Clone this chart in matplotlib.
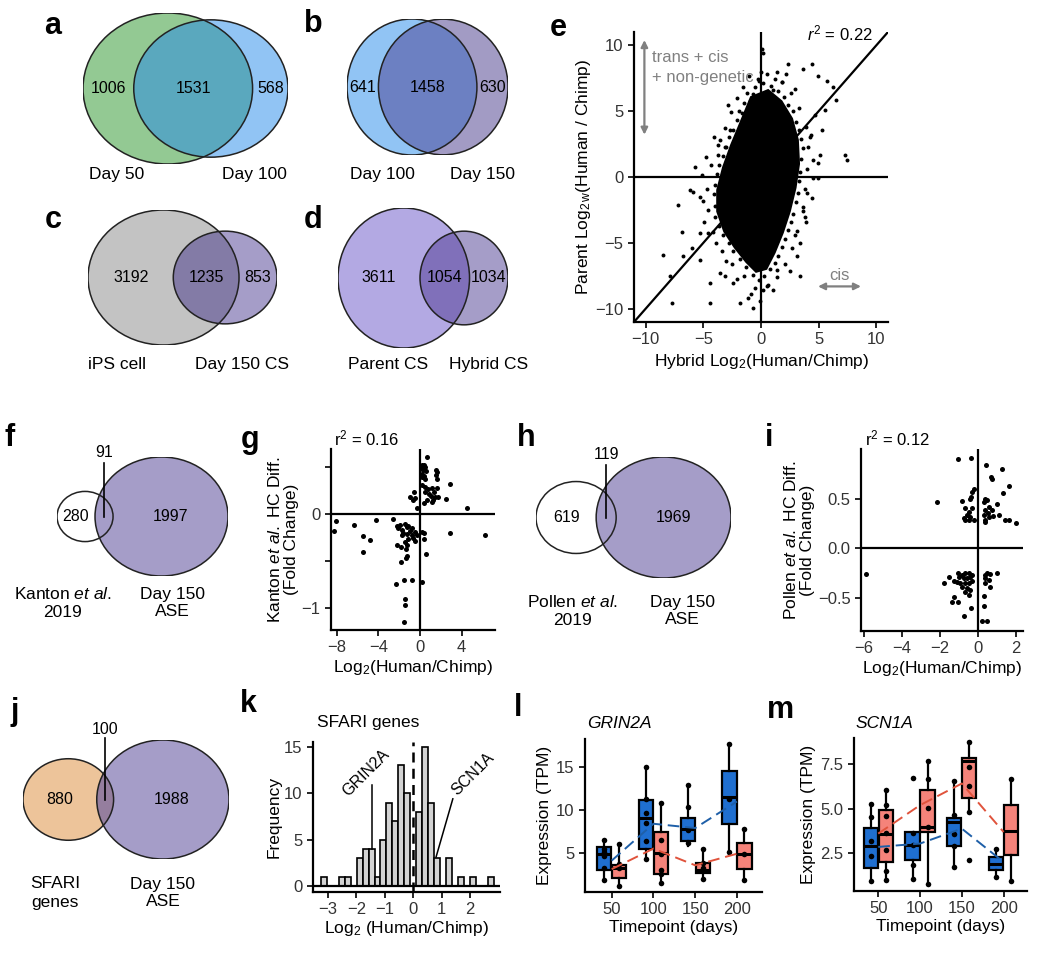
import math
import matplotlib
matplotlib.use('Agg')
import matplotlib.pyplot as plt
from matplotlib.patches import Ellipse

plt.rcParams['font.family'] = ['Liberation Sans', 'DejaVu Sans']
plt.rcParams['mathtext.fontset'] = 'custom'
plt.rcParams['mathtext.rm'] = 'Liberation Sans'
plt.rcParams['mathtext.it'] = 'Liberation Sans:italic'
plt.rcParams['mathtext.bf'] = 'Liberation Sans:bold'

# ---------------- data ----------------
# venn counts: (only left, both, only right)
venn_a = [1006, 1531, 568]
venn_b = [641, 1458, 630]
venn_c = [3192, 1235, 853]
venn_d = [3611, 1054, 1034]
venn_f = [280, 91, 1997]
venn_h = [619, 119, 1969]
venn_j = [880, 100, 1988]

# panel e: outline of the solid dense core + scattered genes around it
e_core_x = [-0.8, 0.6, 1.7, 2.6, 3.1, 3.2, 2.9, 2.4, 1.8, 1.1, 0.4, -0.4, -1.2, -2.2, -3.1, -3.7, -3.7, -3.2, -2.5, -1.6]
e_core_y = [6.0, 6.5, 5.7, 4.4, 2.8, 1.0, -0.8, -2.6, -4.2, -5.7, -6.9, -7.1, -6.4, -5.3, -4.1, -2.6, -1.0, 0.7, 2.4, 4.3]
# edge of the cloud
e_halo_x = [-1.2, -0.5, 0.2, 0.9, 1.5, 2.0, -1.5, -0.3, 1.2, 2.3, 2.8, -1.9, -2.1, 3.0, 3.3, 3.5, -2.4, -2.8,
            3.6, 3.5, -3.0, -3.3, 3.4, 3.3, -3.6, -3.8, 3.2, 3.0, -4.0, -4.1, 2.8, 2.6, -4.0, -4.0, 2.3, 2.1,
            -3.6, -3.3, 1.8, 1.5, -2.8, -2.4, 1.2, 0.8, -1.8, -1.3, 0.3, -0.2, -0.7,
            -1.6, 0.0, 1.8, 2.6, 3.3, 3.9, 4.1, 4.0, 3.8, 3.6, 3.1, 2.7, 2.1, 1.4, 0.6, -0.5, -1.5, -2.5, -3.4,
            -4.2, -4.6, -4.7, -4.3, -3.7, -3.1, -2.6, -2.1, -2.9, -4.1, -4.8, -5.0, -4.9, -3.9, 4.3, 4.5, 4.4,
            3.9, 3.4, 2.5, 1.0, -0.9, -2.1, -3.0, 2.2, -1.0]
e_halo_y = [6.4, 6.8, 7.1, 6.9, 6.5, 6.1, 5.6, 7.4, 7.4, 5.5, 5.0, 5.0, 4.3, 4.2, 3.6, 2.9, 3.6, 3.0,
            2.2, 1.4, 2.3, 1.6, 0.4, -0.3, 0.9, 0.2, -1.2, -1.9, -0.6, -1.3, -2.8, -3.4, -2.2, -3.0, -4.0, -4.7,
            -3.7, -4.4, -5.3, -6.0, -5.0, -5.6, -6.5, -7.0, -6.2, -6.8, -7.5, -7.8, -7.4,
            6.8, 8.0, 7.2, 6.4, 5.2, 3.8, 2.3, 0.6, -0.9, -2.6, -4.1, -5.4, -6.6, -7.6, -8.2, -8.4, -7.5, -6.6, -5.6,
            -4.2, -2.5, -0.9, 0.9, 2.4, 3.7, 4.9, 6.0, 5.5, 3.0, 1.5, -1.8, -3.4, -5.0, 3.2, 1.3, -1.6,
            -3.4, -5.0, -7.1, -8.6, -8.9, -7.7, -6.4, 7.8, 7.7]
# isolated outliers
e_pts_x = [0.06, 0.14, -0.14, 0.5, 1.36, 2.37, 3.67, 4.39, 4.96, 5.69, 6.26, 6.46, 5.54, 4.68, 1.79, 1.07, 2.94,
           -0.66, -0.95, -1.67, -2.68, -3.55, -3.12, -3.69, -5.71, -5.14, -6.15, -5.86, -5.28, -7.16, -6.87, -5.28,
           -6.0, -4.56, -8.46, -7.88, -7.73, -6.72, -5.28, -4.42, -4.42, -3.55, -3.12, -2.4, -1.82, -1.1, -0.66,
           -0.09, 0.2, 0.49, 1.36, 3.09, 3.38, 2.94, 3.81, 3.95, 3.67, 4.96, 4.53, 5.1, 4.96, 4.24, 5.25, 7.27,
           7.47]
e_pts_y = [9.7, 9.4, 7.3, 7.8, 8.0, 8.55, 8.2, 8.6, 7.7, 7.3, 6.8, 5.83, 5.07, 4.69, 7.2, 6.6, 6.7,
           6.3, 5.8, 4.82, 3.56, 2.8, 2.3, 1.66, 0.78, 0.15, -0.98, -1.11, -1.49, -2.12, -4.14, -4.26,
           -5.4, -4.26, -5.9, -7.54, -9.56, -6.03, -6.28, -8.05, -9.56, -7.29, -7.54, -8.05, -9.56, -9.18, -9.94,
           -9.43, -8.55, -8.3, -7.04, -6.03, -7.54, -4.39, -3.0, -1.24, -2.24, -0.1, -0.1, 1.66, 1.03, 3.05, 3.56, 1.66,
           1.29]

# panel g: Kanton et al. comparison
g_x = [0.71, 0.16, 0.35, 0.48, 0.10, 0.32, 0.55, 0.16, 0.39, 0.23, 0.48, 1.54, 1.67, 1.54, 1.61, 0.16, 0.48,
       0.80, 1.13, 1.61, 1.38, 0.48, 0.87, 1.06, 1.45, 1.77, 1.29, 0.64, 0.35, 1.13, 2.89, 2.51, -0.55, -0.96,
       -0.48, -0.64, -0.32, 4.50,
       -8.10, -8.26, -6.33, -4.24, -5.47, -4.76, -5.47, -2.57, -2.25, -1.93, -2.09, -1.77, -1.45, -1.29, -1.13,
       -1.61, -1.29, -0.96, -0.80, -0.64, -0.48, -1.13, -1.45, -0.74, -0.48, -0.32, -1.70, -1.29, -2.25, -1.83,
       -1.38, -1.22, -1.83, -1.35, -2.32, -1.54, -0.80, -1.45, -1.45, -1.54, 0.16, 0.42, 0.39, 0.55, 0.23,
       2.89, 6.27]
g_y = [0.61, 0.53, 0.52, 0.50, 0.49, 0.47, 0.46, 0.43, 0.41, 0.40, 0.38, 0.47, 0.45, 0.42, 0.38, 0.31, 0.29,
       0.27, 0.28, 0.28, 0.24, 0.24, 0.22, 0.20, 0.18, 0.18, 0.15, 0.15, 0.12, 0.13, 0.32, 0.16, 0.24, 0.18,
       0.17, 0.15, 0.07, 0.07,
       -0.07, -0.18, -0.11, -0.06, -0.23, -0.27, -0.40, -0.05, -0.12, -0.11, -0.15, -0.17, -0.10, -0.13, -0.12,
       -0.20, -0.21, -0.18, -0.22, -0.25, -0.28, -0.26, -0.29, -0.15, -0.19, -0.22, -0.22, -0.33, -0.33, -0.35,
       -0.37, -0.44, -0.51, -0.46, -0.74, -0.70, -0.70, -0.90, -0.96, -1.15, -0.19, -0.20, -0.26, -0.42, -0.72,
       -0.20, -0.22]

# panel i: Pollen et al. comparison
i_x = [-1.05, -0.35, 0.44, 1.26, 0.70, 0.74, 1.65, 1.31, -0.23, -0.32, -0.37, -0.44, -0.84, -2.15, 0.39, 0.47,
       0.30, 1.00, 0.60, 0.74, 0.35, 0.51, 0.30, 0.61, 0.39, 0.35, 0.82, 1.09, 1.44, 1.61, 2.01, -0.67, -0.32,
       -0.49, -0.58, -0.40, -0.67, -0.23, -0.75, -0.49,
       -5.88, -1.80, -1.51, -1.28, -1.02, -0.84, -0.67, -0.49, -0.98, -0.75, -0.58, -0.40, -0.32, -1.10, -0.93,
       -0.70, -0.49, -0.32, -0.84, -0.58, -0.40, -0.67, -0.49, -1.24, -1.37, -1.02, -0.37, -0.74, 0.39, 0.47,
       0.65, 1.00, 0.35, 0.56, 0.39, 0.65, 0.33, 0.33, 0.21, 0.47]
i_y = [0.90, 0.91, 0.84, 0.80, 0.72, 0.70, 0.63, 0.56, 0.60, 0.57, 0.52, 0.50, 0.48, 0.47, 0.50, 0.49, 0.47,
       0.45, 0.42, 0.39, 0.39, 0.36, 0.34, 0.32, 0.29, 0.27, 0.33, 0.34, 0.29, 0.29, 0.26, 0.41, 0.41, 0.37,
       0.34, 0.32, 0.29, 0.29, 0.31, 0.29,
       -0.26, -0.35, -0.29, -0.33, -0.25, -0.27, -0.25, -0.25, -0.29, -0.30, -0.30, -0.29, -0.27, -0.34, -0.35,
       -0.35, -0.35, -0.33, -0.39, -0.40, -0.42, -0.44, -0.47, -0.49, -0.54, -0.54, -0.60, -0.68, -0.27, -0.25,
       -0.26, -0.25, -0.30, -0.32, -0.35, -0.39, -0.48, -0.58, -0.73, -0.73]

# panel k: SFARI gene histogram
k_bin_centers = [-3.15, -2.94, -2.73, -2.52, -2.31, -2.10, -1.89, -1.68, -1.47, -1.26, -1.05, -0.84, -0.63,
                 -0.42, -0.21, 0.00, 0.21, 0.42, 0.63, 0.84, 1.05, 1.26, 1.47, 1.68, 1.89, 2.10, 2.31, 2.52, 2.73]
k_counts = [1, 0, 0, 1, 1, 0, 3, 4, 4, 1, 5, 9, 7, 13, 10, 0, 8, 15, 9, 3, 0, 3, 0, 1, 0, 1, 0, 0, 1]
k_bin_width = 0.21

# panels l, m: expression boxplots (box stats: whislo, q1, med, q3, whishi)
timepoints = ['50', '100', '150', '200']
grin_blue_stats = [[1.8, 2.97, 4.9, 5.63, 6.48], [4.26, 5.5, 9.1, 11.17, 15.0],
                   [5.82, 6.37, 7.8, 9.1, 12.9], [5.1, 8.36, 11.56, 14.6, 17.7]]
grin_red_stats = [[1.13, 2.1, 3.2, 3.63, 5.98], [1.52, 2.58, 5.04, 7.4, 10.8],
                  [1.9, 2.66, 3.05, 3.87, 5.5], [1.8, 3.16, 4.84, 6.17, 7.77]]
grin_blue_pts = [[6.48, 5.5, 5.1, 4.6, 3.2, 1.8], [15.0, 11.25, 9.6, 8.5, 6.4, 4.26],
                 [12.9, 10.4, 7.66, 6.1], [17.7, 11.3, 5.1]]
grin_red_pts = [[5.98, 3.75, 3.2, 1.13], [10.8, 6.48, 4.9, 3.0, 2.58, 1.52],
                [5.5, 3.83, 3.2, 1.9], [7.77, 4.84, 1.8]]
grin_blue_mean = [4.1, 8.4, 7.9, 11.0]
grin_red_mean = [3.1, 5.5, 3.55, 4.9]

scn_blue_stats = [[0.9, 1.65, 2.89, 3.91, 5.23], [1.05, 2.12, 2.97, 3.68, 3.68],
                  [1.71, 2.89, 4.25, 4.49, 6.54], [1.15, 1.52, 1.9, 2.27, 2.74]]
scn_red_stats = [[1.0, 1.99, 3.55, 4.9, 6.03], [0.73, 3.68, 3.97, 6.07, 7.67],
                 [4.81, 5.62, 7.67, 7.82, 8.72], [0.9, 2.37, 3.74, 5.19, 6.64]]
scn_blue_pts = [[5.23, 4.53, 3.18, 2.33, 0.9], [6.73, 3.6, 2.97, 1.8, 1.05],
                [6.54, 4.66, 3.59, 2.89, 1.71], [2.74, 1.15]]
scn_red_pts = [[6.03, 5.19, 4.59, 3.65, 2.65, 1.47, 1.0], [7.67, 6.64, 5.04, 3.97, 0.73],
               [8.72, 7.35, 6.26, 4.81, 2.09], [6.64, 0.9]]
scn_blue_mean = [2.84, 3.03, 3.87, 1.99]
scn_red_mean = [3.59, 5.19, 6.41, 3.68]

# ---------------- helpers ----------------
W, H = 1050, 958
fig = plt.figure(figsize=(W / 100, H / 100), dpi=100)


def px_axes(x0, y0, x1, y1):
    return fig.add_axes([x0 / W, 1 - y1 / H, (x1 - x0) / W, (y1 - y0) / H])


def ftext(x, y, s, **kw):
    fig.text(x / W, 1 - y / H, s, **kw)


def classic(ax, size=11.5):
    ax.spines['top'].set_visible(False)
    ax.spines['right'].set_visible(False)
    ax.spines['left'].set_linewidth(1.6)
    ax.spines['bottom'].set_linewidth(1.6)
    ax.tick_params(width=1.2, length=4, labelsize=size, labelcolor='#333333')


def lens_area(r1, r2, d):
    if d >= r1 + r2:
        return 0.0
    if d <= abs(r1 - r2):
        return math.pi * min(r1, r2) ** 2
    a1 = math.acos((d * d + r1 * r1 - r2 * r2) / (2 * d * r1))
    a2 = math.acos((d * d + r2 * r2 - r1 * r1) / (2 * d * r2))
    k = 0.5 * math.sqrt((-d + r1 + r2) * (d + r1 - r2) * (d - r1 + r2) * (d + r1 + r2))
    return r1 * r1 * a1 + r2 * r2 * a2 - k


def draw_venn(box, counts, colors, leader=None):
    only1, both, only2 = counts
    # circle areas follow the set sizes, distance follows the overlap
    r1 = math.sqrt((only1 + both) / math.pi)
    r2 = math.sqrt((only2 + both) / math.pi)
    lo, hi = abs(r1 - r2), r1 + r2
    for _ in range(80):
        mid = (lo + hi) / 2
        if lens_area(r1, r2, mid) > both:
            lo = mid
        else:
            hi = mid
    d = (lo + hi) / 2
    ax = px_axes(*box)
    rm = max(r1, r2)
    ax.set_xlim(-r1, d + r2)
    ax.set_ylim(-rm, rm)
    ax.axis('off')
    c1 = Ellipse((0, 0), 2 * r1, 2 * r1, fc=colors[0], ec='none')
    c2 = Ellipse((d, 0), 2 * r2, 2 * r2, fc=colors[1], ec='none')
    ax.add_patch(c1)
    ax.add_patch(c2)
    c3 = Ellipse((d, 0), 2 * r2, 2 * r2, fc=colors[2], ec='none')
    ax.add_patch(c3)
    c3.set_clip_path(c1)
    for cx, r in [(0, r1), (d, r2)]:
        ax.add_patch(Ellipse((cx, 0), 2 * r, 2 * r, fc='none', ec='#222222', lw=1.1))
    fs = 11.5
    ax.text((-r1 + d - r2) / 2, 0, str(only1), ha='center', va='center', fontsize=fs)
    ax.text((r1 + d + r2) / 2, 0, str(only2), ha='center', va='center', fontsize=fs)
    mid_x = (d - r2 + r1) / 2
    if leader is None:
        ax.text(mid_x, 0, str(both), ha='center', va='center', fontsize=fs)
    else:
        ax.plot([mid_x, mid_x], [0, leader[0] * rm], color='black', lw=1.2, clip_on=False)
        ax.text(mid_x, leader[1] * rm, str(both), ha='center', va='center', fontsize=fs, clip_on=False)
    return ax


# ---------------- venns a-d ----------------
draw_venn((83, 13, 288, 164), venn_a, ['#93C993', '#91C4F4', '#5AA8BE'])
draw_venn((347, 19, 508, 155), venn_b, ['#91C4F4', '#A29BC4', '#6C80C2'])
draw_venn((88, 210, 277, 345), venn_c, ['#C3C3C3', '#A59DC8', '#837BA6'])
draw_venn((338, 208, 508, 348), venn_d, ['#B3A9E3', '#A59DC8', '#8070BA'])

lab = dict(ha='center', va='center', fontsize=12.5)
ftext(117, 174, 'Day 50', **lab)
ftext(254, 174, 'Day 100', **lab)
ftext(382, 174, 'Day 100', **lab)
ftext(483, 174, 'Day 150', **lab)
ftext(117, 364, 'iPS cell', **lab)
ftext(242, 364, 'Day 150 CS', **lab)
ftext(388, 364, 'Parent CS', **lab)
ftext(489, 364, 'Hybrid CS', **lab)

# ---------------- panel e ----------------
ax = px_axes(634, 32, 888, 322)
ax.fill(e_core_x, e_core_y, color='black', lw=3, ec='black', zorder=2)
ax.scatter(e_halo_x, e_halo_y, s=8, color='black', lw=0, zorder=3)
ax.scatter(e_pts_x, e_pts_y, s=8, color='black', lw=0, zorder=3)
ax.axhline(0, color='black', lw=1.6, zorder=4)
ax.axvline(0, color='black', lw=1.6, zorder=4)
ax.plot([-11, 11], [-11, 11], color='black', lw=1.6, zorder=4)
ax.set_xlim(-11, 11)
ax.set_ylim(-11, 11)
ax.set_xticks([-10, -5, 0, 5, 10])
ax.set_yticks([-10, -5, 0, 5, 10])
classic(ax, 12)
ax.set_xlabel('Hybrid Log$_2$(Human/Chimp)', fontsize=12.5, labelpad=3)
ax.set_ylabel('Parent Log$_{2\\,\\mathrm{w}}$(Human / Chimp)', fontsize=12.5, labelpad=2)
ax.text(6.8, 10.9, '$\\it{r}^2$ = 0.22', ha='center', va='center', fontsize=12)
ax.annotate('', xy=(-10.1, 10.6), xytext=(-10.1, 3.0),
            arrowprops=dict(arrowstyle='<|-|>', color='#808080', lw=1.6, mutation_scale=10))
ax.text(-9.4, 8.3, 'trans + cis\n+ non-genetic', color='#808080', fontsize=12,
        ha='left', va='center', linespacing=1.4)
ax.annotate('', xy=(4.7, -8.3), xytext=(8.9, -8.3),
            arrowprops=dict(arrowstyle='<|-|>', color='#808080', lw=1.6, mutation_scale=10))
ax.text(6.8, -7.5, 'cis', color='#808080', fontsize=12, ha='center', va='center')

# ---------------- venns f, h, j ----------------
draw_venn((57, 457, 228, 576), venn_f, ['white', '#A59DC8', '#A59DC8'], leader=(0.9, 1.08))
draw_venn((536, 457, 731, 578), venn_h, ['white', '#A59DC8', '#A59DC8'], leader=(0.86, 1.04))
draw_venn((23, 740, 229, 859), venn_j, ['#EDC49A', '#A59DC8', '#957E9E'], leader=(1.03, 1.17))

ftext(63, 603, 'Kanton $\\it{et\\ al.}$\n2019', ha='center', va='center', fontsize=12.5, linespacing=1.25)
ftext(172, 603, 'Day 150\nASE', ha='center', va='center', fontsize=12.5, linespacing=1.25)
ftext(573, 611, 'Pollen $\\it{et\\ al.}$\n2019', ha='center', va='center', fontsize=12.5, linespacing=1.25)
ftext(682, 611, 'Day 150\nASE', ha='center', va='center', fontsize=12.5, linespacing=1.25)
ftext(55, 893, 'SFARI\ngenes', ha='center', va='center', fontsize=12.5, linespacing=1.25)
ftext(163, 893, 'Day 150\nASE', ha='center', va='center', fontsize=12.5, linespacing=1.25)

# ---------------- panel g ----------------
ax = px_axes(331, 449, 495, 630)
ax.scatter(g_x, g_y, s=13, color='black', lw=0, zorder=3)
ax.axhline(0, color='black', lw=1.6)
ax.axvline(0, color='black', lw=1.6)
ax.set_xlim(-8.55, 7.2)
ax.set_ylim(-1.23, 0.695)
ax.set_xticks([-8, -4, 0, 4])
ax.set_yticks([-1, -0.5, 0, 0.5])
ax.set_yticklabels(['\u22121', '', '0', ''])
classic(ax, 12)
ax.set_xlabel('Log$_2$(Human/Chimp)', fontsize=12.5, labelpad=2)
ax.set_ylabel('Kanton $\\it{et\\ al.}$ HC Diff.\n(Fold Change)', fontsize=12.5, labelpad=2, linespacing=1.1)
ftext(367, 438, 'r$^2$ = 0.16', ha='center', va='center', fontsize=12)

# ---------------- panel i ----------------
ax = px_axes(861, 449, 1023, 631)
ax.scatter(i_x, i_y, s=13, color='black', lw=0, zorder=3)
ax.axhline(0, color='black', lw=1.6)
ax.axvline(0, color='black', lw=1.6)
ax.set_xlim(-6.14, 2.37)
ax.set_ylim(-0.83, 1.0)
ax.set_xticks([-6, -4, -2, 0, 2])
ax.set_yticks([-0.5, 0.0, 0.5])
ax.set_yticklabels(['\u22120.5', '0.0', '0.5'])
classic(ax, 12)
ax.set_xlabel('Log$_2$(Human/Chimp)', fontsize=12.5, labelpad=2)
ax.set_ylabel('Pollen $\\it{et\\ al.}$ HC Diff.\n(Fold Change)', fontsize=12.5, labelpad=2, linespacing=1.1)
ftext(898, 438, 'r$^2$ = 0.12', ha='center', va='center', fontsize=12)

# ---------------- panel k ----------------
ax = px_axes(313, 742, 500, 892)
ax.bar(k_bin_centers, k_counts, width=k_bin_width, color='#D3D3D3', edgecolor='black', lw=1.2, zorder=2)
ax.axhline(0, color='black', lw=1.6, zorder=3)
ax.axvline(0, color='black', lw=1.8, ls=(0, (4, 2.5)), zorder=4)
ax.set_xlim(-3.53, 3.05)
ax.set_ylim(-0.6, 15.5)
ax.set_xticks([-3, -2, -1, 0, 1, 2])
ax.set_yticks([0, 5, 10, 15])
classic(ax, 12)
ax.set_xlabel('Log$_2$ (Human/Chimp)', fontsize=12.5, labelpad=1)
ax.set_ylabel('Frequency', fontsize=12.5, labelpad=2)
ax.plot([-1.47, -1.47], [4.0, 10.9], color='black', lw=1.1)
ax.text(-1.65, 12.2, 'GRIN2A', rotation=45, ha='center', va='center', fontsize=11.5)
ax.plot([0.80, 1.39], [3.15, 9.4], color='black', lw=1.1)
ax.text(2.11, 12.1, 'SCN1A', rotation=45, ha='center', va='center', fontsize=11.5)
ftext(368, 723, 'SFARI genes', ha='center', va='center', fontsize=12.5)

# ---------------- panels l, m ----------------
blue_box, red_box = '#1F6FD0', '#F5837A'
blue_line, red_line = '#1E5FA8', '#E0533C'


def expression_panel(box, blue_stats, red_stats, blue_pts, red_pts, blue_mean, red_mean,
                     ylim, yticks, yticklabels, xlim):
    ax = px_axes(*box)
    pos = [1, 2, 3, 4]
    off = 0.18
    for stats, pts, col, sgn in [(blue_stats, blue_pts, blue_box, -1), (red_stats, red_pts, red_box, 1)]:
        bstats = [dict(whislo=s[0], q1=s[1], med=s[2], q3=s[3], whishi=s[4], fliers=[]) for s in stats]
        ax.bxp(bstats, positions=[p + sgn * off for p in pos], widths=0.34, patch_artist=True,
               showfliers=False, showcaps=False,
               boxprops=dict(facecolor=col, edgecolor='black', lw=1.6),
               medianprops=dict(color='black', lw=2.2),
               whiskerprops=dict(color='black', lw=1.6), manage_ticks=False)
        for p, vals in zip(pos, pts):
            ax.scatter([p + sgn * off] * len(vals), vals, s=16, color='black', lw=0, zorder=5)
    ax.plot(pos, blue_mean, color=blue_line, lw=1.4, ls=(0, (6, 3)), zorder=6)
    ax.plot(pos, red_mean, color=red_line, lw=1.4, ls=(0, (6, 3)), zorder=6)
    ax.set_xlim(*xlim)
    ax.set_ylim(*ylim)
    ax.set_xticks(pos)
    ax.set_xticklabels(timepoints)
    ax.set_yticks(yticks)
    ax.set_yticklabels(yticklabels)
    classic(ax, 12)
    ax.set_xlabel('Timepoint (days)', fontsize=12.5, labelpad=2)
    ax.set_ylabel('Expression (TPM)', fontsize=12.5, labelpad=3)
    return ax


expression_panel((585, 739, 762, 892), grin_blue_stats, grin_red_stats, grin_blue_pts, grin_red_pts,
                 grin_blue_mean, grin_red_mean, (0.43, 18.3), [5, 10, 15], ['5', '10', '15'], (0.36, 4.6))
ftext(587, 723, 'GRIN2A', ha='left', va='center', fontsize=12.5, style='italic')

expression_panel((854, 738, 1027, 891), scn_blue_stats, scn_red_stats, scn_blue_pts, scn_red_pts,
                 scn_blue_mean, scn_red_mean, (0.36, 8.97), [2.5, 5.0, 7.5], ['2.5', '5.0', '7.5'], (0.42, 4.56))
ftext(855, 723, 'SCN1A', ha='left', va='center', fontsize=12.5, style='italic')

# ---------------- panel letters ----------------
letters = [('a', 53, 26), ('b', 313, 24), ('c', 53, 220), ('d', 313, 220), ('e', 558, 28),
           ('f', 10, 438), ('g', 250, 440), ('h', 526, 438), ('i', 769, 438),
           ('j', 15, 712), ('k', 248, 704), ('l', 518, 708), ('m', 780, 710)]
for s, x, y in letters:
    ftext(x, y, s, ha='center', va='center', fontsize=22, fontweight='bold')

fig.savefig('out.png', dpi=100)
